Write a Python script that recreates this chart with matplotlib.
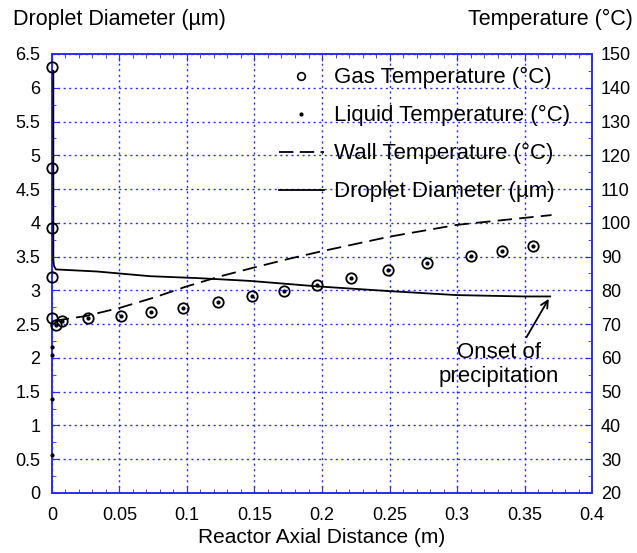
import matplotlib.pyplot as plt
import numpy as np
from matplotlib.lines import Line2D
from matplotlib.legend_handler import HandlerLine2D
from matplotlib.ticker import MultipleLocator, FuncFormatter

plt.rcParams['font.family'] = ['Liberation Sans', 'DejaVu Sans']
plt.rcParams['font.size'] = 13

# gas temperature (deg C) vs axial distance (m)
gas_x = [0.0, 0.0, 0.0, 0.0, 0.0, 0.0027, 0.0072, 0.027, 0.051, 0.0733, 0.097,
         0.123, 0.148, 0.172, 0.196, 0.2215, 0.249, 0.278, 0.310, 0.3336, 0.356]
gas_t = [146.1, 116.2, 98.5, 84.0, 71.9, 69.7, 71.0, 71.9, 72.5, 73.6, 74.9,
         76.5, 78.3, 79.8, 81.6, 83.8, 85.9, 88.0, 90.2, 91.8, 93.2]

# liquid temperature (deg C)
liq_x = [0.0, 0.0, 0.0, 0.0, 0.0027, 0.0072, 0.027, 0.051, 0.0733, 0.097,
         0.123, 0.148, 0.172, 0.196, 0.2215, 0.249, 0.278, 0.310, 0.3336, 0.356]
liq_t = [31.3, 47.7, 60.9, 63.3, 69.7, 71.0, 71.9, 72.5, 73.6, 74.9,
         76.5, 78.3, 79.8, 81.6, 83.8, 85.9, 88.0, 90.2, 91.8, 93.2]

# wall temperature (deg C)
wall_x = [0.002, 0.025, 0.05, 0.075, 0.1, 0.125, 0.15, 0.175, 0.2, 0.25, 0.3, 0.37]
wall_t = [71.0, 72.4, 74.8, 77.8, 81.2, 84.2, 86.8, 89.3, 91.6, 95.9, 99.4, 102.3]

# droplet diameter (um)
dia_x = [0.001, 0.001, 0.0015, 0.003, 0.033, 0.0726, 0.1096, 0.1467, 0.196, 0.249, 0.2998, 0.349, 0.369]
dia_d = [6.25, 3.45, 3.36, 3.31, 3.28, 3.21, 3.18, 3.14, 3.06, 2.99, 2.93, 2.91, 2.91]

blue = '#2a2aff'


class RightMarker(HandlerLine2D):
    # put the single legend marker near the right end of the handle
    def get_xdata(self, legend, xdescent, ydescent, width, height, fontsize):
        xdata, _ = super().get_xdata(legend, xdescent, ydescent, width, height, fontsize)
        return xdata, [-xdescent + width - 7]


fig = plt.figure(figsize=(6.37, 5.53), dpi=100)
ax = fig.add_axes([0.0816, 0.1085, 0.8478, 0.7939])
ax2 = ax.twinx()

ax.set_xlim(0, 0.4)
ax.set_ylim(0, 6.5)
ax2.set_ylim(20, 150)

# droplet diameter drawn on the temperature axes (so it sits above the grid), mapped from the left scale
ax2.plot(np.array(dia_x), np.array(dia_d) * 20 + 20, color='black', lw=1.3,
         zorder=3, clip_on=False)
ax2.plot(gas_x, gas_t, 'o', ms=7.5, mfc='none', mec='black', mew=1.3,
         zorder=4, clip_on=False)
ax2.plot(liq_x, liq_t, '.', ms=4, color='black', zorder=4, clip_on=False)
ax2.plot(wall_x, wall_t, color='black', lw=1.3, ls=(0, (8, 4)))

ax.annotate('', xy=(0.369, 2.91), xytext=(0.3504, 2.27),
            arrowprops=dict(arrowstyle='->', color='black', lw=1.3))
ax.text(0.331, 1.9, 'Onset of\nprecipitation', ha='center', va='center',
        fontsize=16, linespacing=1.2)

ax.xaxis.set_major_locator(MultipleLocator(0.05))
ax.xaxis.set_minor_locator(MultipleLocator(0.01))
ax.yaxis.set_major_locator(MultipleLocator(0.5))
ax.yaxis.set_minor_locator(MultipleLocator(0.25))
ax2.yaxis.set_major_locator(MultipleLocator(10))
ax2.yaxis.set_minor_locator(MultipleLocator(5))
fmt = FuncFormatter(lambda v, p: '%g' % round(v, 3))
ax.xaxis.set_major_formatter(fmt)
ax.yaxis.set_major_formatter(fmt)

ax.grid(True, which='major', color=blue, ls=(0, (1.5, 2.5)), lw=1.0)
for a in (ax, ax2):
    for s in a.spines.values():
        s.set_color(blue)
        s.set_linewidth(1.2)
ax.tick_params(which='both', direction='in', color=blue, top=True, right=False, labelsize=13)
ax.tick_params(which='major', length=5)
ax.tick_params(which='minor', length=3)
ax.tick_params(axis='x', which='major', pad=10)
ax.tick_params(axis='y', which='major', pad=8.5)
ax2.tick_params(which='both', direction='in', color=blue, labelsize=13)
ax2.tick_params(which='major', length=5, pad=6.5)
ax2.tick_params(which='minor', length=3)

ax.set_xlabel('Reactor Axial Distance (m)', fontsize=15, labelpad=3)
fig.text(0.02, 0.964, 'Droplet Diameter (µm)', fontsize=15.5, ha='left', va='center')
fig.text(0.994, 0.964, 'Temperature (°C)', fontsize=15.5, ha='right', va='center')

h_gas = Line2D([], [], ls='none', marker='o', ms=5.5, mfc='none', mec='black', mew=1.2)
h_liq = Line2D([], [], ls='none', marker='.', ms=4, color='black')
h_wall = Line2D([], [], color='black', lw=1.3, ls=(0, (8, 3.5)))
h_dia = Line2D([], [], color='black', lw=1.3)
ax2.legend(handles=[h_gas, h_liq, h_wall, h_dia],
           labels=['Gas Temperature (°C)', 'Liquid Temperature (°C)',
                   'Wall Temperature (°C)', 'Droplet Diameter (µm)'],
           handler_map={h_gas: RightMarker(numpoints=1), h_liq: RightMarker(numpoints=1)},
           loc='upper right', bbox_to_anchor=(0.975, 0.99),
           borderaxespad=0, frameon=False, labelspacing=0.76, handlelength=2.0,
           handletextpad=0.45, fontsize=16)

fig.savefig('out.png', dpi=100)
